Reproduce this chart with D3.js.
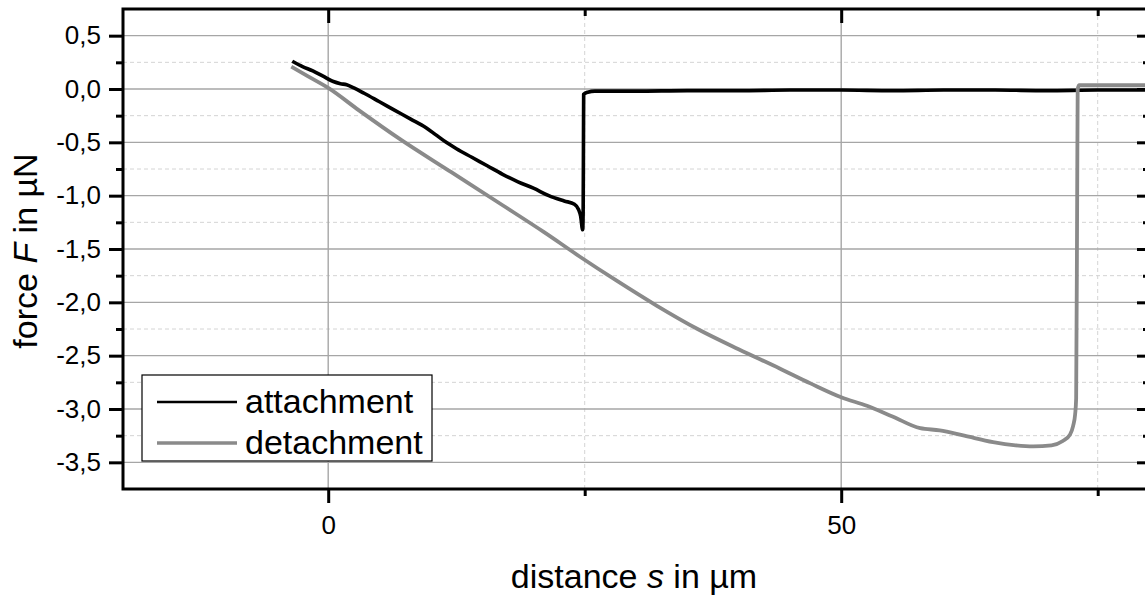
<!DOCTYPE html>
<html>
<head>
<meta charset="utf-8">
<script src="https://cdn.jsdelivr.net/npm/d3@7"></script>
<style>
    html, body { margin: 0; padding: 0; background: #fff; }
    #chart { width: 1145px; height: 596px; overflow: hidden; }
    text { font-family: "Liberation Sans", Arial, sans-serif; fill: #000; }
</style>
</head>
<body>
<div id="chart"></div>
<script>
// distance s in µm / force F in µN
const attachS = [-3.5, -2.5, -1.5, -0.5, 0.5, 1.2, 1.8, 2.5, 3.5, 5, 6.5, 8, 9.5, 10.5, 11.5, 12.5,
    14, 15.5, 17, 18.5, 20, 21.5, 23, 24, 24.4, 24.6, 24.8, 24.85, 24.88, 24.9, 25.3, 26,
    30, 35, 40, 45, 50, 55, 60, 65, 70, 75, 80];
const attachF = [0.26, 0.21, 0.17, 0.12, 0.07, 0.05, 0.04, 0.01, -0.04, -0.12, -0.20, -0.28, -0.36, -0.43, -0.50, -0.56,
    -0.64, -0.72, -0.80, -0.87, -0.93, -1.00, -1.05, -1.08, -1.13, -1.19, -1.32, -1.15, -0.50, -0.05, -0.03, -0.02,
    -0.02, -0.015, -0.015, -0.01, -0.01, -0.015, -0.01, -0.01, -0.015, -0.01, -0.01];

const detachS = [-3.6, -2, 0, 3, 7, 12, 17, 21, 24.5, 28, 32, 36, 40, 44, 47, 50, 52.5, 55, 57.7, 59.6,
    62, 64.8, 67, 68.7, 70.5, 71.6, 72.3, 72.6, 72.8, 72.9, 73.0, 73.05, 73.2, 76, 80];
const detachF = [0.21, 0.12, 0.01, -0.20, -0.47, -0.78, -1.09, -1.34, -1.57, -1.79, -2.03, -2.25, -2.44, -2.62, -2.76, -2.89, -2.97, -3.07, -3.18, -3.20,
    -3.25, -3.31, -3.34, -3.35, -3.34, -3.30, -3.24, -3.16, -3.05, -2.90, -1.00, 0.00, 0.035, 0.035, 0.035];

const xMajorTicks = [0, 50];
const xMinorTicks = [25, 75];
const yMajorTicks = [0.5, 0, -0.5, -1, -1.5, -2, -2.5, -3, -3.5];
const yMinorTicks = [0.25, -0.25, -0.75, -1.25, -1.75, -2.25, -2.75, -3.25];

const seriesNames = ['attachment', 'detachment'];
const seriesColors = ['#000000', '#8a8a8a'];

class ForceChart {
    constructor(containerId) {
        this.container = document.getElementById(containerId);
        this.width = 1145;
        this.height = 596;
        this.plot = { left: 123, right: 1149, top: 9, bottom: 489 };

        this.x = d3.scaleLinear().domain([-20, 80]).range([this.plot.left, this.plot.right]);
        this.y = d3.scaleLinear().domain([-3.75, 0.75]).range([this.plot.bottom, this.plot.top]);

        const locale = d3.formatLocale({ decimal: ',', thousands: '.', grouping: [3], currency: ['', ''], minus: '-' });
        this.yFormat = locale.format('.1f');

        this.svg = d3.select(this.container).append('svg')
            .attr('width', this.width)
            .attr('height', this.height);

        this.drawGrid();
        this.drawLines();
        this.drawAxes();
        this.drawLegend();
    }

    drawGrid() {
        const g = this.svg.append('g');
        const { left, right, top, bottom } = this.plot;

        g.selectAll('.ymin').data(yMinorTicks).enter().append('line')
            .attr('x1', left).attr('x2', right)
            .attr('y1', d => this.y(d)).attr('y2', d => this.y(d))
            .attr('stroke', '#d4d4d4').attr('stroke-width', 1).attr('stroke-dasharray', '4,3');
        g.selectAll('.xmin').data(xMinorTicks).enter().append('line')
            .attr('x1', d => this.x(d)).attr('x2', d => this.x(d))
            .attr('y1', top).attr('y2', bottom)
            .attr('stroke', '#d4d4d4').attr('stroke-width', 1).attr('stroke-dasharray', '4,3');
        g.selectAll('.ymaj').data(yMajorTicks).enter().append('line')
            .attr('x1', left).attr('x2', right)
            .attr('y1', d => this.y(d)).attr('y2', d => this.y(d))
            .attr('stroke', '#a6a6a6').attr('stroke-width', 1.4);
        g.selectAll('.xmaj').data(xMajorTicks).enter().append('line')
            .attr('x1', d => this.x(d)).attr('x2', d => this.x(d))
            .attr('y1', top).attr('y2', bottom)
            .attr('stroke', '#a6a6a6').attr('stroke-width', 1.4);
    }

    drawLines() {
        const line = d3.line()
            .x(d => this.x(d[0]))
            .y(d => this.y(d[1]))
            .curve(d3.curveMonotoneX);
        const series = [
            d3.zip(attachS, attachF),
            d3.zip(detachS, detachF)
        ];
        const widths = [3.6, 3.8];

        series.forEach((pts, i) => {
            this.svg.append('path')
                .datum(pts)
                .attr('d', line)
                .attr('fill', 'none')
                .attr('stroke', seriesColors[i])
                .attr('stroke-width', widths[i])
                .attr('stroke-linejoin', 'round');
        });
    }

    drawAxes() {
        const { left, right, top, bottom } = this.plot;
        const axisColor = '#000';

        // bottom: outward ticks + labels
        const bottomAxis = this.svg.append('g').attr('transform', `translate(0,${bottom})`);
        bottomAxis.call(d3.axisBottom(this.x).tickValues(xMajorTicks).tickSize(14).tickPadding(13).tickFormat(d3.format('d')));
        bottomAxis.append('g').call(d3.axisBottom(this.x).tickValues(xMinorTicks).tickSize(7).tickFormat(''));

        // top: inward ticks
        const topAxis = this.svg.append('g').attr('transform', `translate(0,${top})`);
        topAxis.call(d3.axisBottom(this.x).tickValues(xMajorTicks).tickSize(14).tickFormat(''));
        topAxis.append('g').call(d3.axisBottom(this.x).tickValues(xMinorTicks).tickSize(7).tickFormat(''));

        // left: outward ticks + labels
        const leftAxis = this.svg.append('g').attr('transform', `translate(${left},0)`);
        leftAxis.call(d3.axisLeft(this.y).tickValues(yMajorTicks).tickSize(14).tickPadding(8).tickFormat(this.yFormat));
        leftAxis.append('g').call(d3.axisLeft(this.y).tickValues(yMinorTicks).tickSize(7).tickFormat(''));

        // right: inward ticks
        const rightAxis = this.svg.append('g').attr('transform', `translate(${right},0)`);
        rightAxis.call(d3.axisLeft(this.y).tickValues(yMajorTicks).tickSize(12).tickFormat(''));
        rightAxis.append('g').call(d3.axisLeft(this.y).tickValues(yMinorTicks).tickSize(6).tickFormat(''));

        this.svg.selectAll('.domain').remove();
        this.svg.selectAll('.tick line').attr('stroke', axisColor).attr('stroke-width', 3);
        this.svg.selectAll('.tick text').style('font-size', '26px').attr('fill', '#000');

        // frame
        this.svg.append('rect')
            .attr('x', left).attr('y', top)
            .attr('width', right - left).attr('height', bottom - top)
            .attr('fill', 'none').attr('stroke', axisColor).attr('stroke-width', 3);

        // axis titles
        const xTitle = this.svg.append('text')
            .attr('x', 634).attr('y', 588)
            .attr('text-anchor', 'middle')
            .style('font-size', '34px');
        xTitle.append('tspan').text('distance ');
        xTitle.append('tspan').style('font-style', 'italic').text('s');
        xTitle.append('tspan').text(' in µm');

        const yTitle = this.svg.append('text')
            .attr('transform', 'translate(37,251) rotate(-90)')
            .attr('text-anchor', 'middle')
            .style('font-size', '34px');
        yTitle.append('tspan').text('force ');
        yTitle.append('tspan').style('font-style', 'italic').text('F');
        yTitle.append('tspan').text(' in µN');
    }

    drawLegend() {
        const legend = this.svg.append('g').attr('transform', 'translate(142,375)');
        legend.append('rect')
            .attr('width', 290).attr('height', 86)
            .attr('fill', '#fff').attr('stroke', '#000').attr('stroke-width', 1.2);

        const rows = legend.selectAll('.item')
            .data(seriesNames)
            .enter()
            .append('g')
            .attr('transform', (d, i) => `translate(0,${27 + i * 41})`);

        rows.append('line')
            .attr('x1', 15).attr('x2', 95)
            .attr('stroke', (d, i) => seriesColors[i])
            .attr('stroke-width', (d, i) => i === 0 ? 2.5 : 3.5);

        rows.append('text')
            .attr('x', 103).attr('y', 11)
            .style('font-size', '34px')
            .text(d => d);
    }
}

document.addEventListener('DOMContentLoaded', () => {
    new ForceChart('chart');
});
</script>
</body>
</html>
